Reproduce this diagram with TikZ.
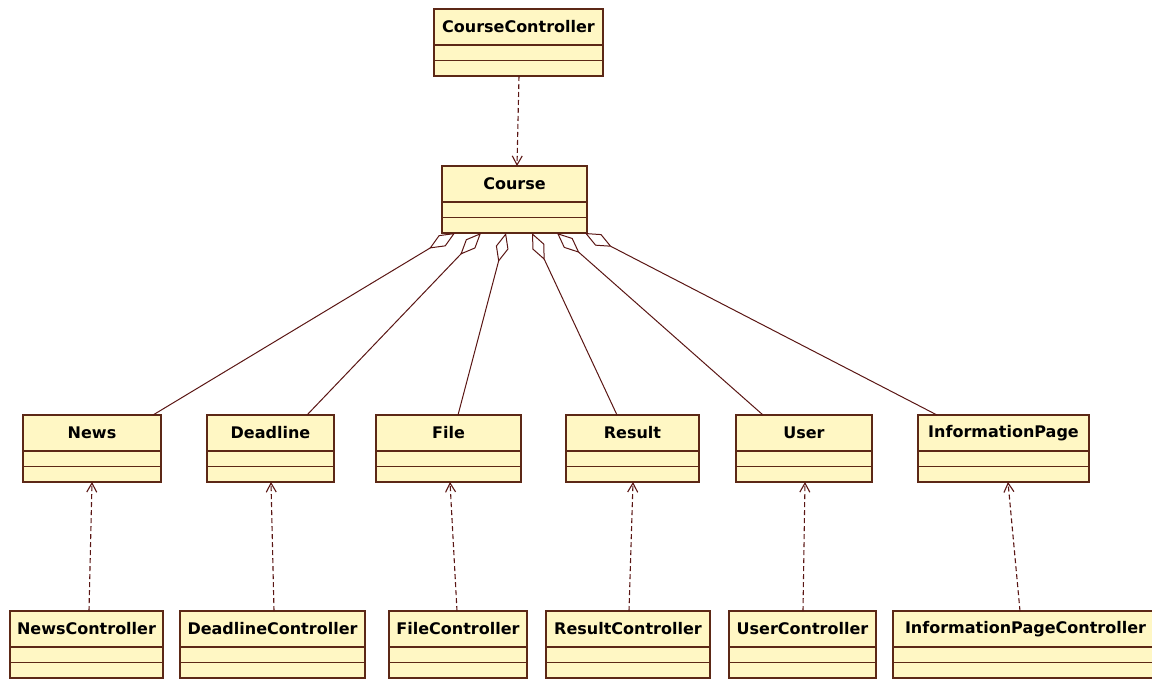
\documentclass[tikz,border=0pt]{standalone}
\usepackage{fontspec}
\setsansfont{DejaVu Sans}
\usetikzlibrary{positioning,arrows.meta}
\definecolor{classfill}{RGB}{255,247,196}
\definecolor{classline}{RGB}{92,40,22}
\definecolor{linkline}{RGB}{90,22,20}
\tikzset{
  classname/.style={draw=classline, fill=classfill, line width=1.2pt, outer sep=0pt,
    minimum height=36pt, inner sep=0pt,
    font=\sffamily\bfseries\fontsize{16}{18}\selectfont},
  classpart/.style={draw=classline, fill=classfill, line width=1.2pt, outer sep=0pt,
    minimum height=15.5pt, inner sep=0pt},
  depend/.style={draw=linkline, line width=1.1pt, dash pattern=on 5pt off 3pt,
    -{Straight Barb[length=9pt, width=10pt]}},
  aggr/.style={draw=linkline, line width=1pt,
    {Diamond[open, length=30pt, width=13pt]}-}
}
\begin{document}
\begin{tikzpicture}[x=1pt, y=-1pt]
  \useasboundingbox (0,0) rectangle (1152,678);
  % classes: name, name band, two empty compartments
  \foreach \cname/\ctext/\cx/\cy/\cw in {
      coursectl/CourseController/434/9/169, course/Course/442/166/145,
      news/News/23/415/138, deadline/Deadline/207/415/127, file/File/376/415/145,
      result/Result/566/415/133, user/User/736/415/136, infopage/InformationPage/918/415/171,
      newsctl/NewsController/10/611/153, deadlinectl/DeadlineController/180/611/185,
      filectl/FileController/389/611/138, resultctl/ResultController/546/611/164,
      userctl/UserController/729/611/147, infopagectl/InformationPageController/893/611/265}
  {
    \node[classname, minimum width=\cw pt, anchor=north west] (\cname) at (\cx,\cy) {\ctext};
    \node[classpart, minimum width=\cw pt, below=0pt of \cname] (\cname a) {};
    \node[classpart, minimum width=\cw pt, below=0pt of \cname a] (\cname b) {};
  }
  % dependencies
  \draw[depend] ([xshift=85pt]coursectlb.south west) -- ([xshift=75pt]course.north west);
  \foreach \cls/\cs/\ce in {news/79/69, deadline/94/64, file/68/74,
      result/83/67, user/74/69, infopage/127/90}
    \draw[depend] ([xshift=\cs pt]\cls ctl.north west) -- ([xshift=\ce pt]\cls b.south west);
  % aggregations
  \foreach \cls/\cs/\ce in {news/13/130, deadline/39/100, file/64/82,
      result/90/51, user/115/27, infopage/143/19}
    \draw[aggr] ([xshift=\cs pt]courseb.south west) -- ([xshift=\ce pt]\cls.north west);
\end{tikzpicture}
\end{document}
